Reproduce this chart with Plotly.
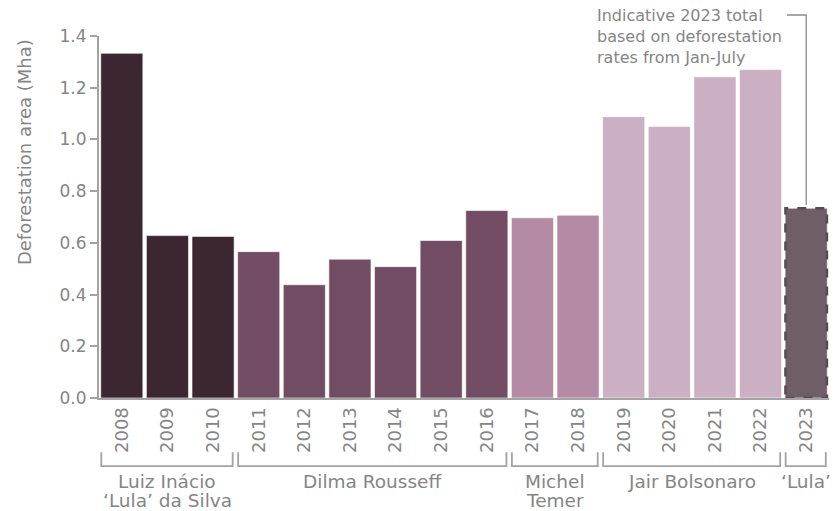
import plotly.graph_objects as go

years = ["2008", "2009", "2010", "2011", "2012", "2013", "2014", "2015",
         "2016", "2017", "2018", "2019", "2020", "2021", "2022", "2023"]
values = [1.333, 0.628, 0.625, 0.566, 0.438, 0.537, 0.508, 0.609,
          0.725, 0.697, 0.707, 1.088, 1.050, 1.242, 1.270, 0.734]
presidents = [["Luiz Inácio", "‘Lula’ da Silva"], ["Dilma Rousseff"], ["Michel", "Temer"],
              ["Jair Bolsonaro"], ["‘Lula’"]]
president_spans = [(0, 2), (3, 8), (9, 10), (11, 14), (15, 15)]
president_colors = ["#3c2632", "#724c63", "#b48aa5", "#cbb0c3", "#6f5e68"]
y_ticks = [0.0, 0.2, 0.4, 0.6, 0.8, 1.0, 1.2, 1.4]
note_text = "Indicative 2023 total<br>based on deforestation<br>rates from Jan-July"

FONT = "DejaVu Sans"
GREY = "#858585"
LINE = "#a3a3a3"
Y_MAX = 1.4

bar_colors = []
for (s, e), c in zip(president_spans, president_colors):
    bar_colors += [c] * (e - s + 1)

fig = go.Figure()
fig.add_trace(go.Bar(
    x=list(range(len(years))), y=values,
    marker=dict(color=bar_colors, line=dict(color="rgba(255,255,255,0.6)", width=1)),
    hoverinfo="x+y",
))

shapes = []
annotations = []

# dashed outline for the indicative 2023 bar
last = len(years) - 1
shapes.append(dict(type="rect", xref="x", yref="y",
                   x0=last - 0.455, x1=last + 0.455, y0=0, y1=values[last],
                   line=dict(color="#5a4854", width=2.5, dash="dash"),
                   fillcolor="rgba(0,0,0,0)", layer="above"))

# president brackets
line_y = [-0.231, -0.282]
for (s, e), lines in zip(president_spans, presidents):
    x0 = s - 0.5 + 0.05
    x1 = e + 0.5 - 0.07
    shapes.append(dict(type="path", xref="x", yref="paper",
                       path=f"M {x0},-0.150 L {x0},-0.188 L {x1},-0.188 L {x1},-0.150",
                       line=dict(color=LINE, width=1.8)))
    for ly, txt in zip(line_y, lines):
        annotations.append(dict(x=(s + e) / 2, y=ly, xref="x", yref="paper",
                                text=txt, showarrow=False, xanchor="center", yanchor="middle",
                                font=dict(family=FONT, size=18.5, color=GREY)))

# note leader line
top_frac = (values[last] + 0.012) / Y_MAX
shapes.append(dict(type="path", xref="x", yref="paper",
                   path=f"M {last - 0.42},1.058 L {last},1.058 L {last},{top_frac}",
                   line=dict(color="#8a8a8a", width=1.3)))
annotations.append(dict(x=0.679, y=1.088, xref="paper", yref="paper", text=note_text,
                        showarrow=False, xanchor="left", yanchor="top", align="left",
                        font=dict(family=FONT, size=16, color=GREY)))

# y-axis title
annotations.append(dict(x=-0.101, y=0.68, xref="paper", yref="paper",
                        text="Deforestation area (Mha)", textangle=-90, showarrow=False,
                        xanchor="center", yanchor="middle",
                        font=dict(family=FONT, size=18, color=GREY)))

fig.update_layout(
    width=836, height=511,
    margin=dict(l=99, r=7, t=36, b=113),
    paper_bgcolor="white", plot_bgcolor="white",
    bargap=0.077, showlegend=False,
    shapes=shapes, annotations=annotations,
    font=dict(family=FONT, color=GREY),
)
fig.update_xaxes(
    range=[-0.5, len(years) - 0.5], tickmode="array",
    tickvals=list(range(len(years))), ticktext=years, tickangle=-90,
    showline=True, linecolor=LINE, linewidth=2, ticks="", showgrid=False,
    tickfont=dict(family=FONT, size=18, color=GREY), zeroline=False,
)
fig.update_yaxes(
    range=[0, Y_MAX], tickmode="array", tickvals=y_ticks,
    ticktext=[f"{v:.1f}" for v in y_ticks],
    showline=True, linecolor=LINE, linewidth=2, ticks="outside", ticklen=7,
    tickcolor=LINE, tickwidth=2, showgrid=False, zeroline=False,
    tickfont=dict(family=FONT, size=17, color=GREY),
)

fig.write_html("out.html")
